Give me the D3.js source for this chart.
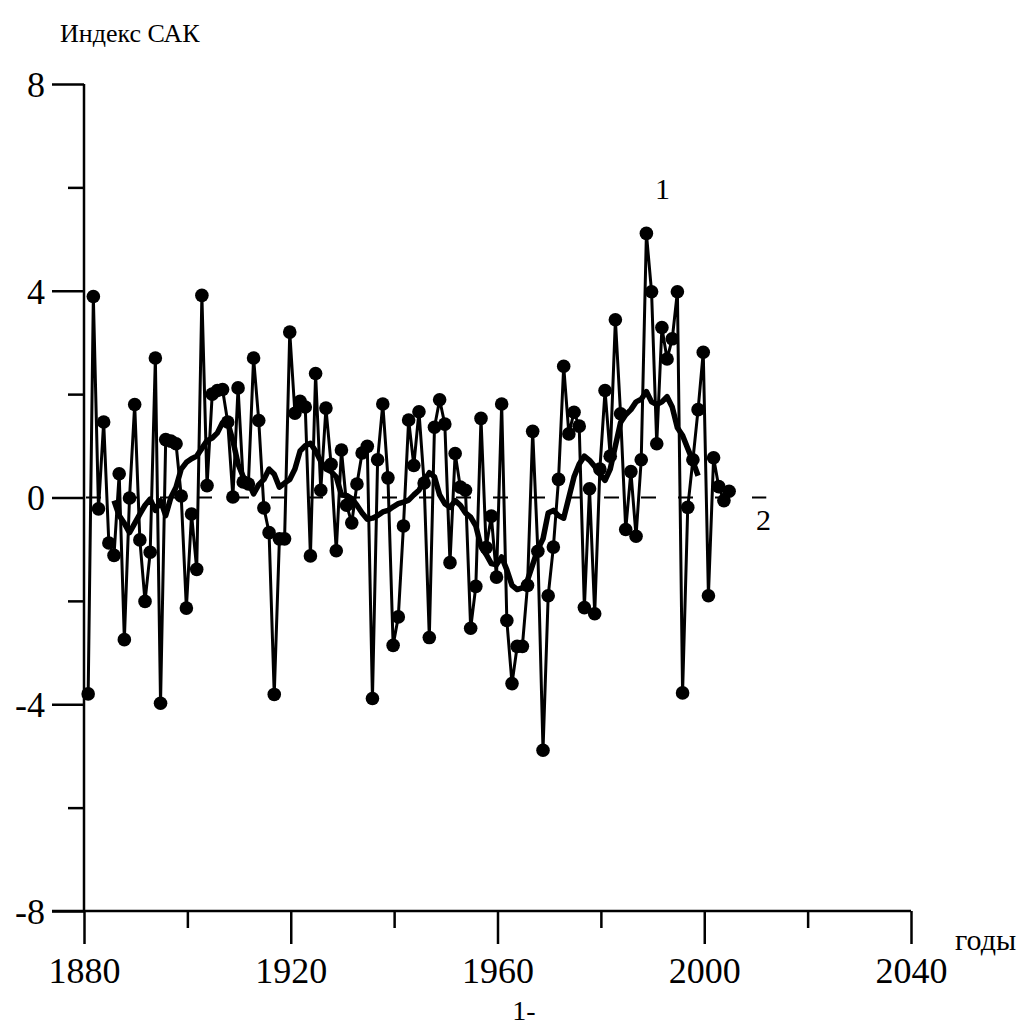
<!DOCTYPE html>
<html>
<head>
<meta charset="utf-8">
<script src="https://cdn.jsdelivr.net/npm/d3@7"></script>
<style>
  body { margin: 0; background: #fff; }
  svg text { font-family: "Liberation Serif", "DejaVu Serif", serif; fill: #000; }
</style>
</head>
<body>
<svg width="1024" height="1027"></svg>
<script>
//	DATA
// индекс САК по годам (ряд 1, точки)
var firstYear = 1881,
	sakValues = [
		-3.80, 3.89, -0.22, 1.46, -0.88, -1.12, 0.46, -2.75, -0.01, 1.80,	// 1881-1890
		-0.82, -2.01, -1.06, 2.70, -3.98, 1.12, 1.09, 1.04, 0.03, -2.14,	// 1891-1900
		-0.32, -1.39, 3.91, 0.23, 2.00, 2.07, 2.09, 1.46, 0.01, 2.12,		// 1901-1910
		0.30, 0.26, 2.70, 1.49, -0.20, -0.68, -3.81, -0.80, -0.80, 3.20,	// 1911-1920
		1.63, 1.86, 1.75, -1.13, 2.40, 0.14, 1.73, 0.64, -1.03, 0.92,		// 1921-1930
		-0.15, -0.49, 0.26, 0.86, 0.99, -3.89, 0.73, 1.81, 0.38, -2.86,	// 1931-1940
		-2.31, -0.55, 1.50, 0.62, 1.66, 0.28, -2.71, 1.36, 1.89, 1.42,		// 1941-1950
		-1.26, 0.85, 0.20, 0.14, -2.53, -1.72, 1.53, -0.97, -0.36, -1.54,	// 1951-1960
		1.81, -2.38, -3.60, -2.88, -2.88, -1.70, 1.28, -1.04, -4.89, -1.90,	// 1961-1970
		-0.96, 0.35, 2.54, 1.23, 1.65, 1.38, -2.13, 0.17, -2.25, 0.55,		// 1971-1980
		2.07, 0.80, 3.44, 1.62, -0.62, 0.50, -0.75, 0.73, 5.11, 3.98,		// 1981-1990
		1.04, 3.29, 2.68, 3.07, 3.98, -3.78, -0.19, 0.73, 1.70, 2.81,		// 1991-2000
		-1.90, 0.77, 0.21, -0.06, 0.12										// 2001-2005
	];

// сглаженный ряд (ряд 2, жирная линия)
var smoothFirstYear = 1886,
	smoothValues = [
		-0.06, -0.35, -0.50, -0.68, -0.50, -0.32, -0.15, -0.03, -0.25, -0.06,	// 1886-1895
		-0.35, 0.00, 0.20, 0.55, 0.68, 0.75, 0.80, 0.95, 1.10, 1.15,			// 1896-1905
		1.25, 1.45, 1.45, 1.10, 0.65, 0.40, 0.30, 0.07, 0.25, 0.35,			// 1906-1915
		0.55, 0.45, 0.20, 0.28, 0.35, 0.55, 0.90, 1.00, 1.05, 0.90,			// 1916-1925
		0.70, 0.55, 0.50, 0.40, 0.05, 0.04, -0.02, -0.15, -0.30, -0.42,		// 1926-1935
		-0.40, -0.35, -0.28, -0.25, -0.18, -0.12, -0.09, -0.05, 0.05, 0.14,	// 1936-1945
		0.33, 0.48, 0.40, 0.05, -0.12, -0.19, -0.06, -0.15, -0.30, -0.38,		// 1946-1955
		-0.55, -0.95, -1.10, -1.28, -1.30, -1.15, -1.40, -1.70, -1.78, -1.75,	// 1956-1965
		-1.60, -1.30, -1.00, -0.80, -0.30, -0.25, -0.35, -0.40, 0.00, 0.40,	// 1966-1975
		0.65, 0.80, 0.72, 0.60, 0.45, 0.33, 0.55, 1.00, 1.45, 1.60,			// 1976-1985
		1.70, 1.85, 1.90, 2.05, 1.85, 1.80, 1.85, 1.95, 1.75, 1.35,			// 1986-1995
		1.20, 0.95, 0.70, 0.42													// 1996-1999
	];

var yTicksMajor = [8, 4, 0, -4, -8],
	yTicksMinor = [6, 2, -2, -6],
	xTicksMajor = [1880, 1920, 1960, 2000, 2040],
	xTicksMinor = [1900, 1940, 1980, 2020];

var sakData = sakValues.map(function(v, i) { return [firstYear + i, v]; }),
	smoothData = smoothValues.map(function(v, i) { return [smoothFirstYear + i, v]; });

//	SCALES
var serif = "'Liberation Serif', 'DejaVu Serif', serif",
	svg = d3.select("svg"),
	x = d3.scaleLinear().domain([1880, 2040]).range([84, 911]),
	y = d3.scaleLinear().domain([-8, 8]).range([911, 84]),
	line = d3.line()
		.x(function(d) { return x(d[0]) - 1; })
		.y(function(d) { return y(d[1]); });

//	AXES - оси рисуем через d3.axis, потом правим стиль
// (подписи с обычным дефисом, как в оригинале: "-4", а не "−4")
var yAxisMajor = svg.append("g")
	.attr("transform", "translate(" + x(1880) + ",0)")
	.call(d3.axisLeft(y).tickValues(yTicksMajor).tickSize(32).tickPadding(7)
		.tickFormat(String));
var yAxisMinor = svg.append("g")
	.attr("transform", "translate(" + x(1880) + ",0)")
	.call(d3.axisLeft(y).tickValues(yTicksMinor).tickSize(16).tickFormat(""));

var xAxisMajor = svg.append("g")
	.attr("transform", "translate(0," + y(-8) + ")")
	.call(d3.axisBottom(x).tickValues(xTicksMajor).tickSize(33).tickPadding(13)
		.tickFormat(String));
var xAxisMinor = svg.append("g")
	.attr("transform", "translate(0," + y(-8) + ")")
	.call(d3.axisBottom(x).tickValues(xTicksMinor).tickSize(17).tickFormat(""));

[yAxisMajor, yAxisMinor, xAxisMajor, xAxisMinor].forEach(function(g) {
	g.attr("font-family", serif).attr("font-size", 36);
	g.select(".domain").remove();
	g.selectAll("line").attr("stroke", "#000").attr("stroke-width", 2.5);
	g.selectAll("text").attr("fill", "#000");
});
yAxisMajor.selectAll("text").attr("dy", "0.34em");

// линии осей (x-ось заходит влево до конца большого штриха)
svg.append("line")
	.attr("x1", x(1880)).attr("x2", x(1880))
	.attr("y1", y(8)).attr("y2", y(-8))
	.attr("stroke", "#000").attr("stroke-width", 2.5);
svg.append("line")
	.attr("x1", x(1880) - 32).attr("x2", x(2040))
	.attr("y1", y(-8)).attr("y2", y(-8))
	.attr("stroke", "#000").attr("stroke-width", 2.5);

// пунктир по нулю
svg.append("line")
	.attr("x1", x(1880) + 2).attr("x2", x(2012))
	.attr("y1", y(0)).attr("y2", y(0))
	.attr("stroke", "#000").attr("stroke-width", 2)
	.attr("stroke-dasharray", "15,22");

//	SERIES
svg.append("path").datum(sakData)
	.attr("d", line)
	.attr("fill", "none").attr("stroke", "#000").attr("stroke-width", 3)
	.attr("stroke-linejoin", "round");

svg.selectAll("circle.pt").data(sakData).enter().append("circle")
	.attr("class", "pt")
	.attr("cx", function(d) { return x(d[0]) - 1; })
	.attr("cy", function(d) { return y(d[1]); })
	.attr("r", 6.8)
	.attr("fill", "#000");

svg.append("path").datum(smoothData)
	.attr("d", line)
	.attr("fill", "none").attr("stroke", "#000").attr("stroke-width", 5.5)
	.attr("stroke-linejoin", "round");

//	LABELS
var labels = svg.append("g").attr("font-family", serif);
labels.append("text").attr("x", 60).attr("y", 42).attr("font-size", 26).text("Индекс САК");
labels.append("text").attr("x", 955).attr("y", 950).attr("font-size", 30).text("годы");
labels.append("text").attr("x", 655).attr("y", 199).attr("font-size", 30).text("1");
labels.append("text").attr("x", 756).attr("y", 530).attr("font-size", 30).text("2");
labels.append("text").attr("x", 524).attr("y", 1020).attr("text-anchor", "middle")
	.attr("font-size", 28).text("1-");
</script>
</body>
</html>
